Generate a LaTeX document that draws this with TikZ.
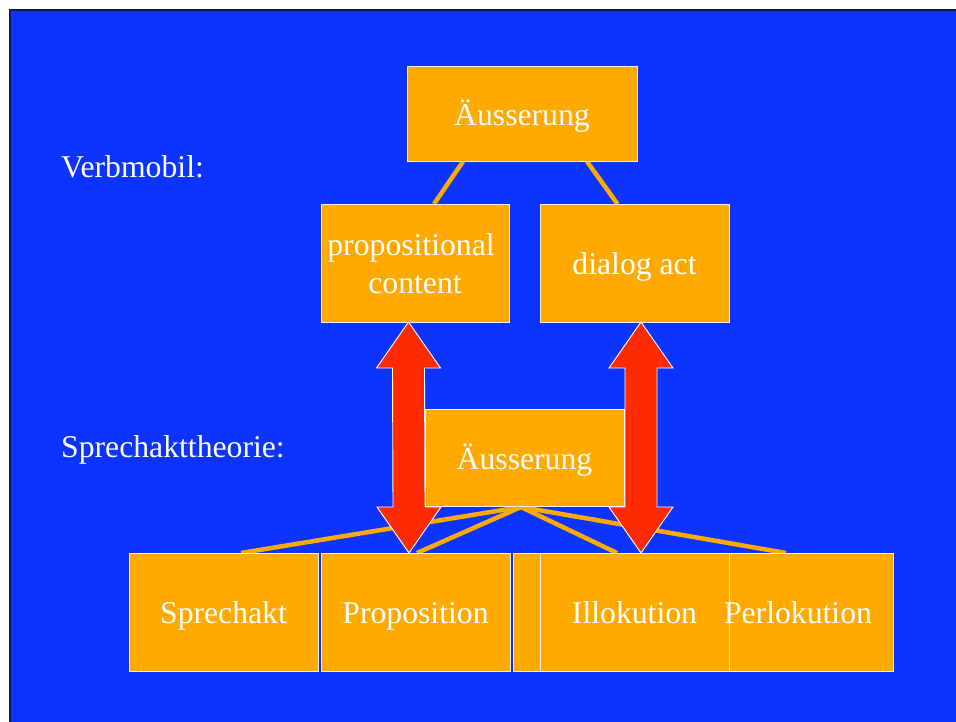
\documentclass[tikz,border=0pt]{standalone}
\usepackage{fontspec}
\setmainfont{Liberation Serif}
\usetikzlibrary{calc}
\definecolor{slideblue}{RGB}{13,51,255}
\definecolor{slideedge}{RGB}{20,20,110}
\definecolor{boxorange}{RGB}{255,170,0}
\definecolor{arrowred}{RGB}{255,42,0}
\pgfdeclarelayer{back}
\pgfdeclarelayer{links}
\pgfsetlayers{back,links,main}
\begin{document}
\begin{tikzpicture}[x=1pt,y=-1pt,
  boxtext/.style={inner sep=0pt, outer sep=0pt, text=white,
    font=\fontsize{31.7}{38}\selectfont, text height=23pt, text depth=0pt},
  box/.style={boxtext, rectangle, fill=boxorange, draw=white!94!black, line width=0.8pt},
  lbl/.style={text=white, inner sep=0pt, font=\fontsize{31.7}{38}\selectfont},
  link/.style={draw=boxorange, line width=4.5pt},
  bigarrow/.style={fill=arrowred, draw=white, line width=0.9pt, line join=miter}]
\useasboundingbox (0,0) rectangle (956,721);
% slide background with its dark left and top edge
\begin{pgfonlayer}{back}
\fill[white] (-5,-5) rectangle (966,731);
\fill[slideblue] (10,10) rectangle (966,731);
\draw[slideedge, line width=1.6pt] (10,731) -- (10,10) -- (966,10);
\end{pgfonlayer}

% row labels
\node[lbl, anchor=base west] (vm) at (61,177) {Verbmobil:};
\node[lbl, anchor=base west] (st) at (61,457) {Sprechakttheorie:};

% upper tree
\node[box, minimum width=230pt, minimum height=95pt] (top) at (522,114) {Äusserung};
\node[box, minimum width=188pt, minimum height=118pt, align=center,
      text height=61pt] (pc) at (415,263) {propositional\hspace*{.25em}\\content};
\node[box, minimum width=189pt, minimum height=118pt] (da) at (634.5,263) {dialog act};

% lower tree
\node[box, minimum width=199pt, minimum height=97pt] (mid) at (524.5,457.5) {Äusserung};
\node[box, minimum width=189pt, minimum height=118pt] (sprechakt) at (223.5,612) {Sprechakt};
\node[box, minimum width=189pt, minimum height=118pt] (prop) at (415.5,612) {Proposition};
\node[box, minimum width=190pt, minimum height=118pt] (blank) at (608,612) {};
\node[box, minimum width=190pt, minimum height=118pt] (perl) at (798,612) {};
\node[box, minimum width=189pt, minimum height=118pt] (illo) at (634.5,612) {Illokution};
\node[boxtext] (perltext) at (perl.center) {Perlokution};

% tree connectors, kept beneath the boxes
\begin{pgfonlayer}{links}
\draw[link] ([xshift=-59pt]top.south) -- ([xshift=19pt]pc.north);
\draw[link] ([xshift=65pt]top.south) -- ([xshift=-17pt]da.north);
\coordinate (apex) at ([xshift=-3.5pt,yshift=-1pt]mid.south);
\draw[link] (apex) -- ([xshift=17.5pt]sprechakt.north);
\draw[link] (apex) -- ([xshift=1.5pt]prop.north);
\draw[link] (apex) -- ([xshift=-17.5pt]illo.north);
\draw[link] (apex) -- ([xshift=-12pt]perl.north);
\end{pgfonlayer}

% double-headed arrows between the two levels
\coordinate (a1) at ([xshift=-6.5pt]pc.south);
\coordinate (a2) at ([xshift=-6.5pt]prop.north);
\draw[bigarrow] (a1) -- ++(32,46) -- ++(-16,0) -- ($(a2)+(16,-46)$) -- ++(16,0)
  -- (a2) -- ++(-32,-46) -- ++(16,0) -- ($(a1)+(-16,46)$) -- ++(-16,0) -- cycle;
\coordinate (b1) at ([xshift=6.5pt]da.south);
\coordinate (b2) at ([xshift=6.5pt]illo.north);
\draw[bigarrow] (b1) -- ++(32,46) -- ++(-16,0) -- ($(b2)+(16,-46)$) -- ++(16,0)
  -- (b2) -- ++(-32,-46) -- ++(16,0) -- ($(b1)+(-16,46)$) -- ++(-16,0) -- cycle;
\end{tikzpicture}
\end{document}
